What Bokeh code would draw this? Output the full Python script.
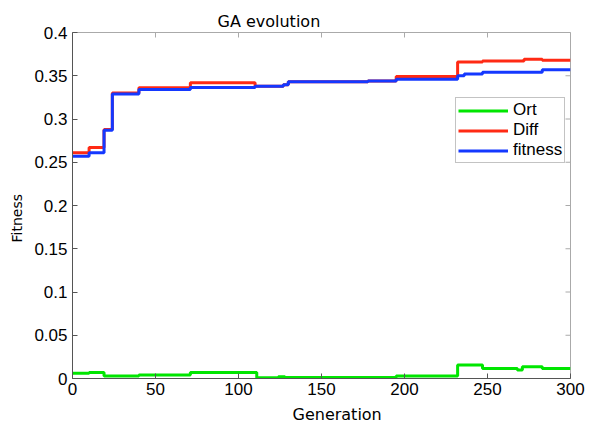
import math
from bokeh.plotting import figure
from bokeh.models import FixedTicker, Range1d, Legend, LegendItem, Title
from bokeh.embed import file_html
from bokeh.resources import INLINE

# ---- data ----
gen_ort = [0, 10, 19, 40, 71, 111, 124, 128, 195, 232, 247, 268, 271, 283, 300]
ort = [0.006, 0.007, 0.003, 0.004, 0.007, 0.001, 0.002, 0.0012, 0.003, 0.0155,
       0.0117, 0.0097, 0.0135, 0.0117, 0.0117]

gen_diff = [0, 10, 19, 24, 40, 71, 110, 127, 130, 178, 195, 232, 247, 272, 283, 300]
diff = [0.261, 0.267, 0.288, 0.330, 0.336, 0.342, 0.338, 0.3395, 0.343, 0.344,
        0.349, 0.366, 0.367, 0.369, 0.368, 0.368]

gen_fit = [0, 10, 19, 24, 40, 71, 110, 127, 130, 178, 195, 232, 236, 247, 283, 300]
fitness = [0.257, 0.261, 0.287, 0.329, 0.334, 0.3365, 0.338, 0.3395, 0.343, 0.344,
           0.346, 0.350, 0.352, 0.354, 0.357, 0.357]

x_ticks = [0, 50, 100, 150, 200, 250, 300]
y_ticks = [0, 0.05, 0.1, 0.15, 0.2, 0.25, 0.3, 0.35, 0.4]
y_tick_labels = ["0", "0.05", "0.1", "0.15", "0.2", "0.25", "0.3", "0.35", "0.4"]

series_names = ["Ort", "Diff", "fitness"]
series_colors = ["#00e600", "#ff2a14", "#1438ff"]

x_min, x_max = x_ticks[0], x_ticks[-1]
y_min, y_max = y_ticks[0], y_ticks[-1]

# ---- figure ----
p = figure(width=592, height=430, output_backend="svg", toolbar_location=None,
           x_range=Range1d(x_min, x_max), y_range=Range1d(y_min, y_max),
           min_border_left=72, min_border_right=22, min_border_top=32,
           min_border_bottom=52, title="GA evolution")
p.background_fill_color = "white"
p.border_fill_color = "white"
p.outline_line_color = "#aaaaaa"
p.outline_line_width = 1
p.xgrid.visible = False
p.ygrid.visible = False

label_font = "DejaVu Sans"
tick_font = "Liberation Sans"

p.title.text_font = label_font
p.title.text_font_size = "16px"
p.title.text_font_style = "normal"
p.title.text_color = "black"
p.title.align = "left"
p.title.offset = 145
p.title.standoff = 3

def style_axis(ax):
    ax.axis_line_color = "#555555"
    ax.major_tick_line_color = "#555555"
    ax.major_tick_in = 5
    ax.major_tick_out = 0
    ax.minor_tick_line_color = None
    ax.major_label_text_font = tick_font
    ax.major_label_text_font_size = "17px"
    ax.major_label_text_color = "black"

xa = p.xaxis[0]
xa.ticker = FixedTicker(ticks=x_ticks)
style_axis(xa)
xa.major_label_standoff = 4

ya = p.yaxis[0]
ya.ticker = FixedTicker(ticks=y_ticks)
ya.major_label_overrides = {t: l for t, l in zip(y_ticks, y_tick_labels)}
style_axis(ya)
ya.major_label_standoff = 5

# axis titles (placed like the reference, slightly off-centre)
x_title = Title(text="Generation", align="left", offset=220, standoff=10,
                text_font=label_font, text_font_size="16px",
                text_font_style="normal", text_color="black")
p.add_layout(x_title, "below")
y_title = Title(text="Fitness", align="left", offset=136, standoff=13,
                text_font=label_font, text_font_size="14px",
                text_font_style="normal", text_color="black")
p.add_layout(y_title, "left")

# inward ticks on the top and right edges of the box (clipped to the frame)
p.scatter(x_ticks, [y_max] * len(x_ticks), marker="dash", angle=math.pi / 2,
          size=10, line_color="#aaaaaa", line_width=1)
p.scatter([x_max] * len(y_ticks), y_ticks, marker="dash",
          size=10, line_color="#aaaaaa", line_width=1)

# ---- lines ----
r_ort = p.step(gen_ort, ort, mode="after", line_width=3, line_color=series_colors[0])
r_diff = p.step(gen_diff, diff, mode="after", line_width=3, line_color=series_colors[1])
r_fit = p.step(gen_fit, fitness, mode="after", line_width=3, line_color=series_colors[2])

legend = Legend(items=[LegendItem(label=series_names[0], renderers=[r_ort]),
                       LegendItem(label=series_names[1], renderers=[r_diff]),
                       LegendItem(label=series_names[2], renderers=[r_fit])],
                location=(383, 215))
legend.border_line_color = "#888888"
legend.border_line_width = 1
legend.background_fill_color = "white"
legend.background_fill_alpha = 1
legend.padding = 2
legend.spacing = 0
legend.margin = 0
legend.glyph_width = 50
legend.glyph_height = 19
legend.label_height = 19
legend.label_standoff = 5
legend.label_text_font = tick_font
legend.label_text_font_size = "17px"
legend.label_text_color = "black"
p.add_layout(legend, "center")

open("out.html", "w").write(file_html(p, INLINE))
